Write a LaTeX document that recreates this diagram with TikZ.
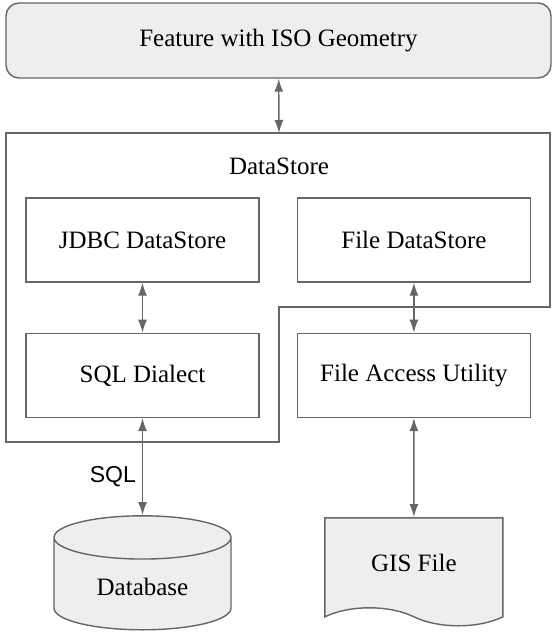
\documentclass[tikz,border=0pt]{standalone}
\usepackage{fontspec}
\setmainfont{Liberation Serif}
\setsansfont{Liberation Sans}
\usetikzlibrary{positioning,shapes.geometric,shapes.symbols,arrows.meta}
\definecolor{edgegray}{HTML}{666666}
\definecolor{boxgray}{HTML}{EEEEEE}
\tikzstyle{block} = [draw=edgegray, line width=1.4pt, rectangle,
    minimum width=233pt, minimum height=84pt, inner sep=0pt]
\tikzstyle{headbox} = [block, fill=boxgray, rounded corners=13pt,
    minimum width=545pt, minimum height=75pt]
\tikzstyle{dbase} = [draw=edgegray, fill=boxgray, line width=1.4pt, cylinder,
    shape border rotate=90, aspect=0.44, minimum width=177pt, minimum height=114pt]
\tikzstyle{filedoc} = [draw=edgegray, fill=boxgray, line width=1.4pt, tape,
    tape bend top=none, tape bend bottom=out and in, tape bend height=18pt,
    minimum width=178pt, minimum height=108pt]
\tikzstyle{outline} = [draw=edgegray, line width=1.4pt]
\tikzstyle{biarrow} = [draw=edgegray, line width=1.4pt,
    {Latex[length=13pt,width=9pt]}-{Latex[length=13pt,width=9pt]}]

\begin{document}
\begin{tikzpicture}[x=1pt, y=-1pt, font=\fontsize{25}{30}\selectfont]
	\useasboundingbox (0,0) rectangle (558,636);

	% Feature on top
	\node [headbox] (feature) at (278.5,40.5) {Feature with ISO Geometry};

	% DataStore outline
	\draw [outline] (6,133) -- (550,133) -- (550,307) -- (279,307)
		-- (279,442) -- (6,442) -- cycle;
	\coordinate (dstop) at (279,133);
	\node (dslabel) at (279,166) {DataStore};

	% Upper row
	\node [block] (jdbc) at (142.5,240) {JDBC DataStore};
	\node [block, right=37pt of jdbc] (filestore) {File DataStore};

	% Lower row
	\node [block, below=50pt of jdbc] (dialect) {SQL Dialect};
	\node [block, below=50pt of filestore] (access) {File Access Utility};

	% Storage
	\node [dbase, below=97pt of dialect] (db) {Database};
	\node [filedoc, below=99pt of access] (gis) {GIS File};

	% Connections
	\draw [biarrow] (feature) -- (dstop);
	\draw [biarrow] (jdbc) -- (dialect);
	\draw [biarrow] (filestore) -- (access);
	\draw [biarrow] (dialect) -- node [left, pos=0.6, xshift=-6pt, inner sep=0pt,
		font=\sffamily\fontsize{23}{27}\selectfont] {SQL} (db);
	\draw [biarrow] (access) -- (gis);
\end{tikzpicture}
\end{document}
